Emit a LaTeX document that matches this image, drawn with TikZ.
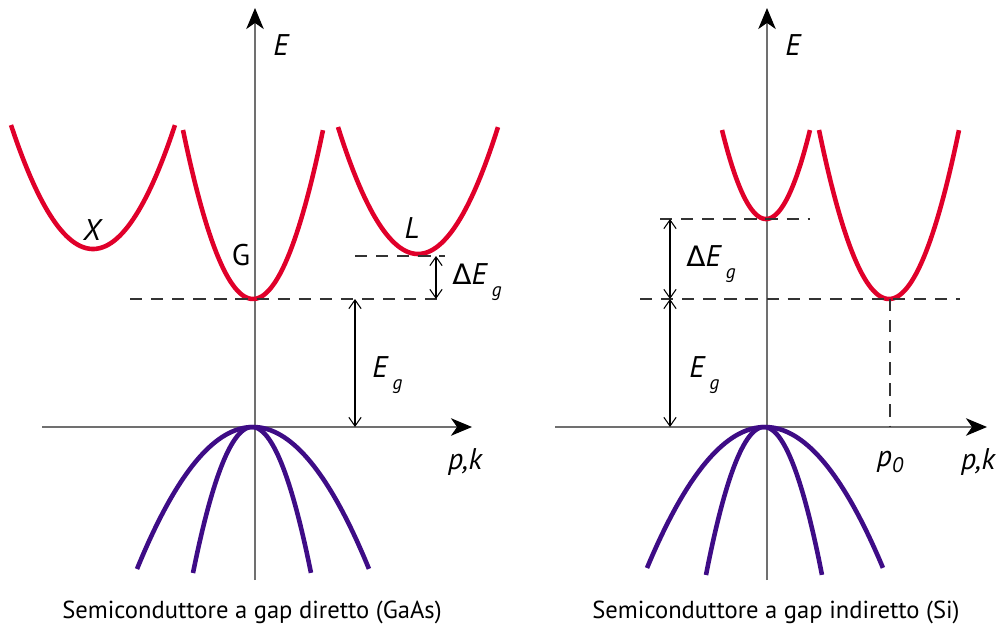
\documentclass[tikz,border=0pt]{standalone}
\usepackage{fontspec}
\setmainfont{PT Sans}
\newfontfamily\gk{DejaVu Sans}
\usetikzlibrary{arrows.meta}
\definecolor{cband}{HTML}{E0002A}
\definecolor{vband}{HTML}{3E0C86}
\definecolor{axgray}{HTML}{707070}
\newcommand{\sbg}[1]{\,\raisebox{-0.75ex}{\fontsize{11}{13}\selectfont #1}}
\begin{document}
\begin{tikzpicture}[x=0.02cm,y=-0.02cm,
  axis/.style={draw=axgray,line width=0.7pt,-{Stealth[length=12pt,width=10pt,inset=3.5pt,black]}},
  cb/.style={draw=cband,line width=2.6pt},
  vb/.style={draw=vband,line width=2.6pt},
  dashline/.style={draw=black!80,line width=0.6pt,dash pattern=on 7pt off 5pt},
  dim/.style={draw=black,line width=0.6pt,{Straight Barb[length=5pt,width=7pt]}-{Straight Barb[length=5pt,width=7pt]}},
  lab/.style={font=\fontsize{17}{20}\selectfont\itshape,inner sep=0pt},
  captext/.style={font=\fontsize{14}{16}\selectfont,inner sep=0pt}]
\useasboundingbox (0,0) rectangle (1001,632);
% ---------- left diagram ----------
\coordinate (Lb) at (255,580);
\coordinate (Lt) at (255,8);
\coordinate (Ll) at (42,427);
\coordinate (Lr) at (472,427);
\draw[axis] (Lb) -- (Lt);
\draw[axis] (Ll) -- (Lr);
% conduction bands
\draw[cb] plot[domain=-1:1,samples=60,smooth] ({93+82*\x},{249-124*\x*\x});
\draw[cb] plot[domain=-1:1,samples=60,smooth] ({253+70*\x},{299-169*\x*\x});
\draw[cb] plot[domain=-1:1,samples=60,smooth] ({418+80*\x},{254-127*\x*\x});
% valence bands
\draw[vb] plot[domain=-1:1,samples=60,smooth] ({253+116*\x},{427+142*\x*\x});
\draw[vb] plot[domain=-1:1,samples=60,smooth] ({252+59*\x},{427+146*\x*\x});
% dashed levels
\coordinate (d1a) at (130,299); \coordinate (d1b) at (445,299);
\coordinate (d2a) at (355,256); \coordinate (d2b) at (445,256);
\draw[dashline] (d1a) -- (d1b);
\draw[dashline] (d2a) -- (d2b);
% dimension arrows
\coordinate (a1t) at (436,256); \coordinate (a1b) at (436,299);
\coordinate (a2t) at (355,299); \coordinate (a2b) at (355,427);
\draw[dim] (a1t) -- (a1b);
\draw[dim] (a2t) -- (a2b);
% labels
\node[lab] (LE) at (281,45) {E};
\node[lab] (LX) at (92,230) {X};
\node[lab,font=\fontsize{17}{20}\selectfont] (LG) at (241,255) {G};
\node[lab] (LL) at (412,228) {L};
\node[lab,anchor=west] (LdE) at (452,282) {{\upshape\gk\fontsize{16}{18}\selectfont Δ}E\sbg{g}};
\node[lab,anchor=west] (LEg) at (372,375) {E\sbg{g}};
\node[lab] (Lpk) at (465,462) {p,k};
\node[captext] (Lcap) at (252,612) {Semiconduttore a gap diretto (GaAs)};
% ---------- right diagram ----------
\coordinate (Rb) at (767,580);
\coordinate (Rt) at (767,8);
\coordinate (Rl) at (555,427);
\coordinate (Rr) at (987,427);
\draw[axis] (Rb) -- (Rt);
\draw[axis] (Rl) -- (Rr);
\draw[cb] plot[domain=-1:1,samples=60,smooth] ({766+44*\x},{219-89*\x*\x});
\draw[cb] plot[domain=-1:1,samples=60,smooth] ({889+70*\x},{299-169*\x*\x});
\draw[vb] plot[domain=-1:1,samples=60,smooth] ({765+118*\x},{427+141*\x*\x});
\draw[vb] plot[domain=-1:1,samples=60,smooth] ({764+58*\x},{427+148*\x*\x});
\coordinate (r1a) at (660,219); \coordinate (r1b) at (810,219);
\coordinate (r2a) at (640,299); \coordinate (r2b) at (960,299);
\coordinate (r3a) at (890,299); \coordinate (r3b) at (890,427);
\draw[dashline] (r1a) -- (r1b);
\draw[dashline] (r2a) -- (r2b);
\draw[dashline] (r3a) -- (r3b);
\coordinate (b1t) at (670,219); \coordinate (b1b) at (670,299);
\coordinate (b2t) at (670,299); \coordinate (b2b) at (670,427);
\draw[dim] (b1t) -- (b1b);
\draw[dim] (b2t) -- (b2b);
\node[lab] (RE) at (793,45) {E};
\node[lab,anchor=west] (RdE) at (686,264) {{\upshape\gk\fontsize{16}{18}\selectfont Δ}E\sbg{g}};
\node[lab,anchor=west] (REg) at (689,375) {E\sbg{g}};
\node[lab] (Rp0) at (890,462) {p\raisebox{-0.45ex}{\fontsize{12}{14}\selectfont 0}};
\node[lab] (Rpk) at (978,462) {p,k};
\node[captext] (Rcap) at (776,612) {Semiconduttore a gap indiretto (Si)};
\end{tikzpicture}
\end{document}
